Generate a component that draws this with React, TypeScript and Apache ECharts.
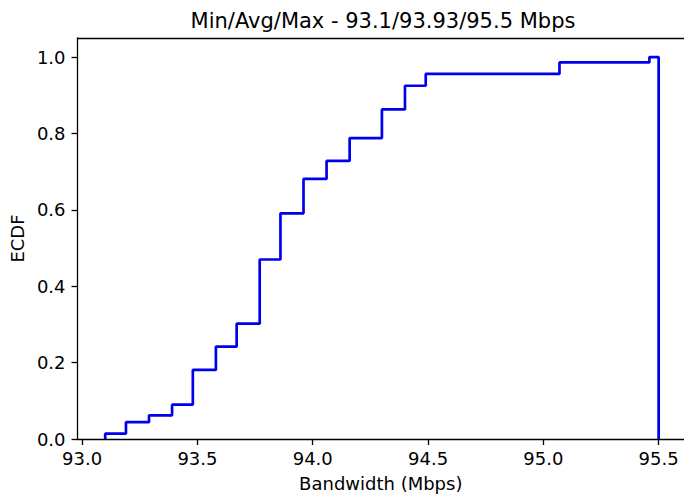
import React, { useEffect, useRef } from "react";
import * as echarts from "echarts";

// Step edges (Mbps) and cumulative ECDF levels between them
const edges = [93.1, 93.19, 93.29, 93.39, 93.48, 93.58, 93.67, 93.77, 93.86, 93.96, 94.06, 94.16, 94.3, 94.4, 94.49, 95.07, 95.46, 95.5];
const levels = [0.014, 0.044, 0.062, 0.09, 0.181, 0.242, 0.302, 0.47, 0.591, 0.681, 0.728, 0.788, 0.863, 0.925, 0.956, 0.986, 1.0];
const xTicks = [93.0, 93.5, 94.0, 94.5, 95.0, 95.5];
const yTicks = [0, 0.2, 0.4, 0.6, 0.8, 1.0];
const titleText = "Min/Avg/Max - 93.1/93.93/95.5 Mbps";

export default function App() {
  const ref = useRef<HTMLDivElement>(null);
  useEffect(() => {
    if (!ref.current) return;
    const chart = echarts.init(ref.current, null, { renderer: "svg" });
    const pts: number[][] = [[edges[0], 0]];
    for (let i = 0; i < levels.length; i++) {
      pts.push([edges[i], levels[i]]);
      pts.push([edges[i + 1], levels[i]]);
    }
    pts.push([edges[edges.length - 1], 0]);
    const font = "DejaVu Sans";
    const xMin = 92.98;
    const xMax = 95.61;
    const spine = { color: "#000", width: 1.3 };
    chart.setOption({
      animation: false,
      backgroundColor: "#fff",
      textStyle: { fontFamily: font },
      graphic: [
        {
          type: "text",
          x: 383,
          y: 10,
          style: {
            text: titleText,
            font: `21px "${font}"`,
            fill: "#000",
            textAlign: "center",
            textVerticalAlign: "top",
          },
        },
      ],
      grid: { left: 77, right: 0, top: 38, bottom: 55, show: false },
      xAxis: [
        {
          type: "value",
          min: xMin,
          max: xMax,
          name: "Bandwidth (Mbps)",
          nameLocation: "middle",
          nameGap: 35,
          nameTextStyle: { fontSize: 18, color: "#000", fontFamily: font },
          axisLine: { show: true, onZero: false, lineStyle: spine },
          axisTick: { show: true, length: 6, inside: false, customValues: xTicks, lineStyle: spine },
          axisLabel: {
            customValues: xTicks,
            formatter: (v: number) => v.toFixed(1),
            fontSize: 18,
            color: "#000",
            fontFamily: font,
            margin: 10,
          },
          splitLine: { show: false },
        },
        {
          type: "value",
          position: "top",
          min: xMin,
          max: xMax,
          axisLine: { show: true, onZero: false, lineStyle: spine },
          axisTick: { show: false },
          axisLabel: { show: false },
          splitLine: { show: false },
        },
      ],
      yAxis: {
        type: "value",
        min: 0,
        max: 1.05,
        name: "ECDF",
        nameLocation: "middle",
        nameGap: 47,
        nameTextStyle: { fontSize: 18, color: "#000", fontFamily: font },
        axisLine: { show: true, onZero: false, lineStyle: spine },
        axisTick: { show: true, length: 6, inside: false, customValues: yTicks, lineStyle: spine },
        axisLabel: {
          customValues: yTicks,
          formatter: (v: number) => v.toFixed(1),
          fontSize: 18,
          color: "#000",
          fontFamily: font,
          margin: 12,
        },
        splitLine: { show: false },
      },
      series: [
        {
          type: "line",
          xAxisIndex: 0,
          data: pts,
          showSymbol: false,
          symbol: "none",
          lineStyle: { color: "#0000ee", width: 2.7 },
          z: 5,
        },
      ],
    });
    return () => chart.dispose();
  }, []);
  return (
    <div
      ref={ref}
      style={{ position: "fixed", left: 0, top: 0, width: 684, height: 497 }}
    />
  );
}
